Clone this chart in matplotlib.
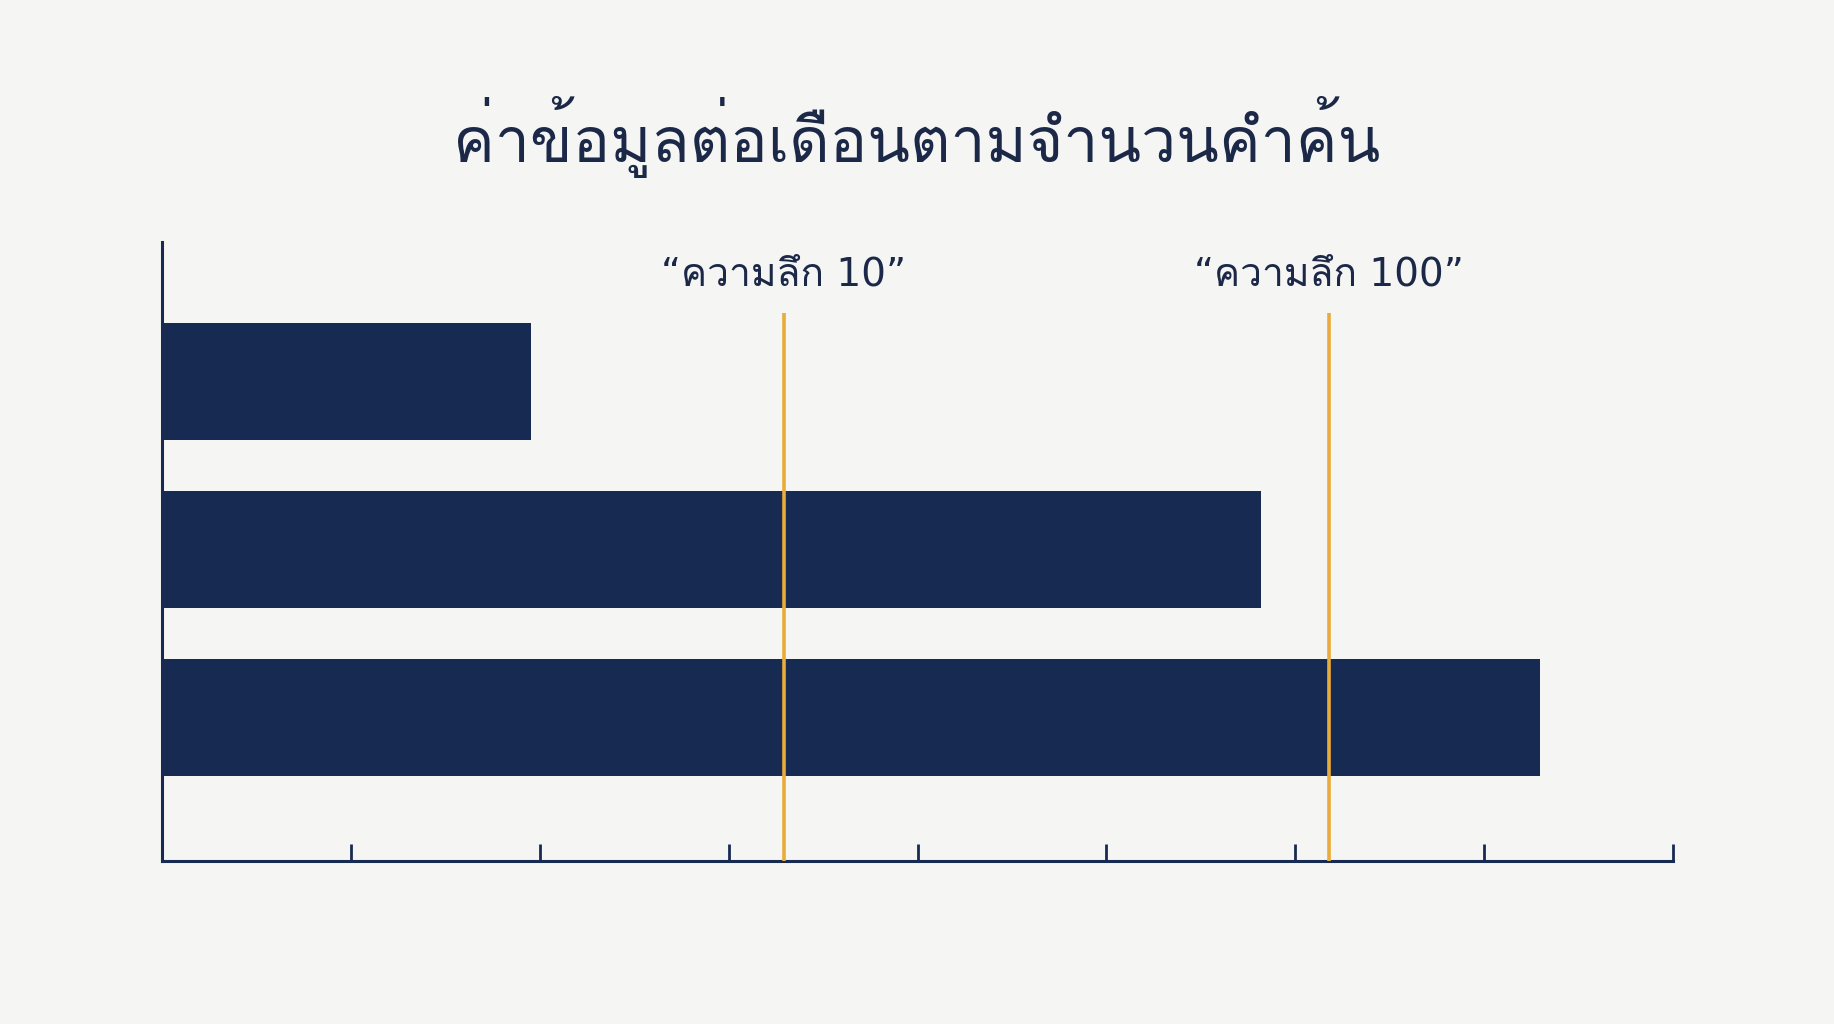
import matplotlib
matplotlib.use("Agg")
import matplotlib.pyplot as plt
from matplotlib import font_manager
from matplotlib.ft2font import FT2Font

# data (axis runs 0..8 in tick units)
rows = [0, 1, 2]
values = [1.95, 5.82, 7.30]
ref_x = [3.29, 6.18]
ref_labels = ["“ความลึก 10”", "“ความลึก 100”"]
title = "ค่าข้อมูลต่อเดือนตามจำนวนคำค้น"

bg = "#f5f5f3"
navy = "#172a52"
ink = "#1c2847"
orange = "#e9ab3a"


def thai_font():
    for f in font_manager.fontManager.ttflist:
        try:
            if FT2Font(f.fname).get_char_index(ord("ก")):
                return f.name
        except Exception:
            pass
    return "DejaVu Sans"


thai = thai_font()
fam = [thai, "DejaVu Sans"]

fig = plt.figure(figsize=(18.34, 10.24), dpi=100, facecolor=bg)
ax = fig.add_axes([0.0886, 0.1589, 0.912 - 0.0886, 0.7634 - 0.1589])
ax.set_facecolor(bg)

ax.barh(rows, values, height=0.70, color=navy, zorder=2)
ax.vlines(ref_x, 2.857, -0.41, color=orange, lw=2.6, zorder=3)
for x, lab in zip(ref_x, ref_labels):
    ax.text(x, -0.64, lab, ha="center", va="center", fontsize=28,
            color=ink, family=["DejaVu Sans", thai])

ax.set_xlim(0, 8)
ax.set_ylim(2.857, -0.83)
ax.set_xticks(range(9))
ax.set_xticklabels([])
ax.set_yticks([])
ax.tick_params(axis="x", direction="in", length=12, width=2, color=navy)
for s in ["top", "right"]:
    ax.spines[s].set_visible(False)
for s in ["left", "bottom"]:
    ax.spines[s].set_color(navy)
    ax.spines[s].set_linewidth(2.2)

fig.text(0.5, 0.866, title, ha="center", va="center", fontsize=45,
         color=ink, family=fam)

fig.savefig("out.png", dpi=100, facecolor=bg)
